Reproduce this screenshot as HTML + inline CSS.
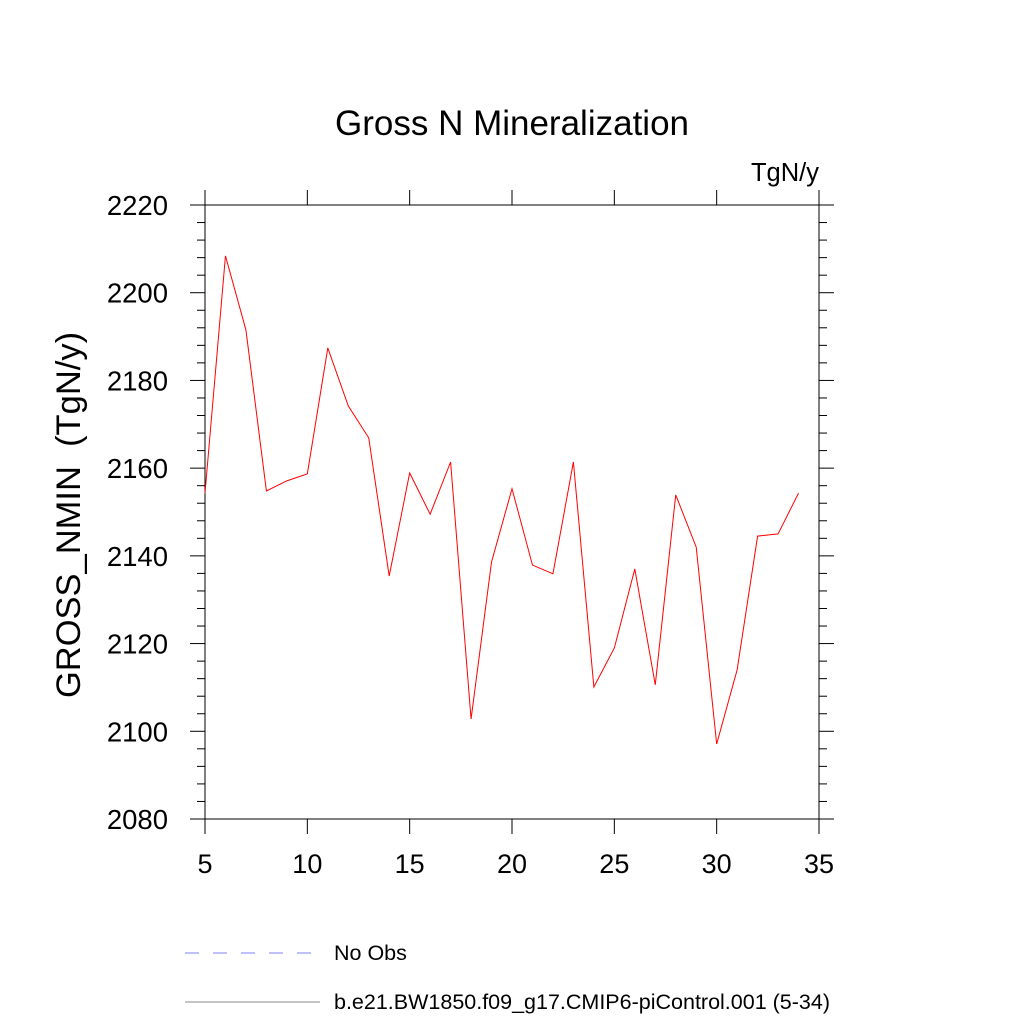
<!DOCTYPE html>
<html><head><meta charset="utf-8"><style>
html,body{margin:0;padding:0;background:#fff}
svg{display:block;font-family:"Liberation Sans",sans-serif}
</style></head><body>
<svg id="chart" width="1024" height="1024">
<text x="512" y="135" font-size="35" text-anchor="middle">Gross N Mineralization</text>
<text x="819" y="181" font-size="25.5" text-anchor="end">TgN/y</text>
<text transform="translate(80,515) rotate(-90)" font-size="34.5" text-anchor="middle" style="white-space:pre">GROSS_NMIN  (TgN/y)</text>
<g id="axes"></g>
<g id="series"></g>
<line x1="185" y1="953" x2="320" y2="953" stroke="#8080ff" stroke-width="1" stroke-dasharray="14,14"/>
<text x="334" y="960" font-size="21.5">No Obs</text>
<line x1="185" y1="1002" x2="320" y2="1002" stroke="#888" stroke-width="1"/>
<text x="334" y="1009" font-size="21.5">b.e21.BW1850.f09_g17.CMIP6-piControl.001 (5-34)</text>
</svg>
<script>
const years=[5,6,7,8,9,10,11,12,13,14,15,16,17,18,19,20,21,22,23,24,25,26,27,28,29,30,31,32,33,34];
const values=[2154.3,2208.4,2191.5,2154.8,2157.1,2158.7,2187.4,2174.2,2166.9,2135.4,2158.9,2149.5,2161.4,2102.8,2138.6,2155.3,2137.9,2135.9,2161.4,2110.1,2119.0,2137.0,2110.6,2153.9,2142.0,2097.1,2114.0,2144.5,2145.0,2154.3];
const xTicks=[5,10,15,20,25,30,35];
const yTicks=[2080,2100,2120,2140,2160,2180,2200,2220];
const NS="http://www.w3.org/2000/svg";
const L=205,R=819,T=205,B=819;
const x=v=>L+(v-5)/30*(R-L);
const y=v=>B-(v-2080)/140*(B-T);
const ax=document.getElementById('axes');
function mk(tag,attrs,parent){const e=document.createElementNS(NS,tag);for(const k in attrs)e.setAttribute(k,attrs[k]);parent.appendChild(e);return e;}
const frame=mk('rect',{x:L,y:T,width:R-L,height:B-T,fill:'none',stroke:'#000','stroke-width':1},ax);


xTicks.forEach(t=>{
  const g=mk('g',{},ax);
  
  
  mk('line',{x1:x(t),y1:B,x2:x(t),y2:B+15,stroke:'#000'},g);
  mk('line',{x1:x(t),y1:T,x2:x(t),y2:T-15,stroke:'#000'},g);
  const tx=mk('text',{x:x(t),y:B+54,'font-size':27,'text-anchor':'middle'},g);tx.textContent=t;
});
for(let v=2080;v<=2220;v+=4){
  const maj=(v-2080)%20===0;const len=maj?15:8;
  mk('line',{x1:L,y1:y(v),x2:L-len,y2:y(v),stroke:'#000'},ax);
  mk('line',{x1:R,y1:y(v),x2:R+len,y2:y(v),stroke:'#000'},ax);
}
yTicks.forEach(t=>{
  const tx=mk('text',{x:168,y:y(t)+10,'font-size':27.5,'text-anchor':'end'},ax);
  
  
  tx.textContent=t;
});
const pts=years.map((yr,i)=>x(yr)+','+y(values[i])).join(' ');
const pl=mk('polyline',{points:pts,fill:'none',stroke:'#ff0000','stroke-width':1},document.getElementById('series'));


</script>
</body></html>
